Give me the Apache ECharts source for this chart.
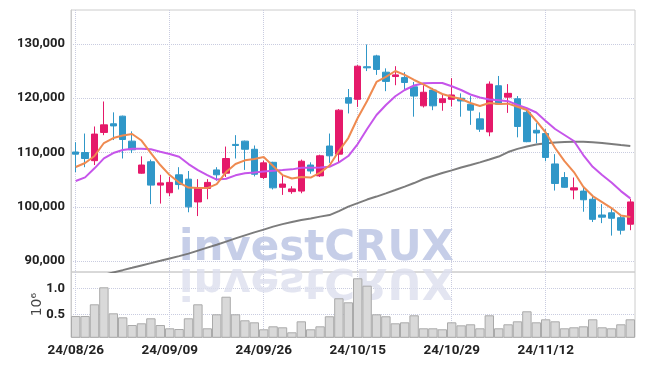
<!DOCTYPE html>
<html><head><meta charset="utf-8">
<script src="https://cdn.jsdelivr.net/npm/echarts@6/dist/echarts.min.js"></script>
<style>html,body{margin:0;padding:0;background:#fff}#c{width:645px;height:366px}</style>
</head><body><div id="c"></div>
<script>
const dates = ["24/08/26","24/08/27","24/08/28","24/08/29","24/08/30","24/09/02","24/09/03","24/09/04","24/09/05","24/09/06",
"24/09/09","24/09/10","24/09/11","24/09/12","24/09/13","24/09/19","24/09/20","24/09/23","24/09/24","24/09/25",
"24/09/26","24/09/27","24/09/30","24/10/02","24/10/04","24/10/07","24/10/08","24/10/10","24/10/11","24/10/14",
"24/10/15","24/10/16","24/10/17","24/10/18","24/10/21","24/10/22","24/10/23","24/10/24","24/10/25","24/10/28",
"24/10/29","24/10/30","24/10/31","24/11/01","24/11/04","24/11/05","24/11/06","24/11/07","24/11/08","24/11/11",
"24/11/12","24/11/13","24/11/14","24/11/15","24/11/18","24/11/19","24/11/20","24/11/21","24/11/22","24/11/25"];
const opens = [110100,110000,108500,113700,115300,116700,112100,106200,108300,104000,
102600,105900,105100,100900,103400,106800,106200,111500,112100,110600,
105400,108200,103600,102800,102900,107700,105700,111200,109700,120100,
119800,125800,127800,124800,124000,123800,122100,118600,121500,119200,
119800,120000,118900,116200,113800,122300,120200,119900,117400,114100,
113500,107900,105400,103100,102900,101400,98500,98900,98000,96800];
const closes = [109700,108900,113400,115100,114900,112400,110500,107700,104000,104400,
104500,104100,100000,103500,104500,105900,108900,111300,110600,106000,
108100,103500,104200,103300,108400,106600,109400,109400,117800,119100,
125900,125600,125300,123100,124300,122900,120400,121100,118600,119900,
120600,119500,117800,114300,122600,118900,120900,114800,112000,113600,
109100,104300,103600,103500,101300,97700,98100,97900,95700,100900];
const lows = [106400,107300,107700,113200,112300,108900,109900,106100,100500,100600,
102000,103200,99000,98300,101400,104800,105500,108900,106800,105600,
105100,103200,102200,102400,102500,106100,105500,108100,108200,117200,
118400,125000,124300,121300,122400,121500,116600,118300,117800,117700,
118500,116600,115100,113800,113000,118900,117300,112800,111900,111700,
108400,103000,103500,101400,99100,97200,97000,94700,94900,95700];
const highs = [111900,113500,114800,119400,117400,116800,113900,109300,108700,105900,
105500,107300,106600,105100,105100,107300,111100,113200,112200,111300,
108500,108300,106000,103800,108700,108200,109600,113500,118000,121700,
126100,129900,128000,125500,125900,124800,123000,122400,121900,120700,
123700,120900,120400,117400,123100,124100,122600,120400,118100,115400,
114300,109700,106400,105400,103500,102200,100500,99600,98700,101500];
const ma5 = [107330,108070,109360,111750,112670,113130,113410,112210,109910,107700,
105850,104470,103550,103460,103460,104190,106410,107880,108560,108800,
109170,107510,105850,105210,105480,105390,106310,107600,110280,112670,
116360,119490,123000,123920,125020,124290,123360,122540,121650,120780,
120290,119860,119120,118570,119120,118940,119000,118440,117830,115810,
113690,110830,108430,106410,103700,101990,100880,99770,98390,98110];
const ma10 = [104750,105430,107090,108930,109910,110460,110700,110700,110590,110150,
109720,109230,107880,106770,105850,105020,105170,105800,106170,106310,
106500,106650,106770,106900,107200,107200,107240,107380,108190,109360,
111570,114330,116910,118760,120360,121520,122350,122760,122810,122810,
122200,121520,120690,120140,119770,119620,119460,118760,118150,117370,
115810,114330,113230,112120,109540,107380,105850,104470,102900,101560];
const maLong = [86130,86590,87050,87480,87920,88340,88770,89210,89630,90060,
90500,90920,91380,91940,92490,93010,93600,94190,94740,95290,
95810,96360,96820,97190,97560,97870,98200,98480,99220,100050,
100690,101340,101890,102480,103090,103730,104380,105120,105670,106220,
106720,107240,107700,108190,108710,109260,110090,110680,111110,111480,
111700,111840,111940,111990,111990,111880,111750,111570,111380,111200];
const volumes = [467000,467000,692000,1019000,519000,442000,294000,327000,423000,294000,
231000,217000,423000,692000,231000,500000,838000,500000,385000,346000,
212000,269000,250000,154000,365000,212000,269000,462000,808000,731000,
1192000,1050000,500000,462000,327000,346000,481000,231000,231000,212000,
346000,288000,308000,231000,481000,231000,308000,365000,558000,346000,
404000,365000,231000,250000,269000,404000,250000,231000,308000,404000];
const priceTicks = [90000,100000,110000,120000,130000];
const volTicks = [500000,1000000];

const FONT = 'Roboto,"Noto Sans",sans-serif';
const RED = '#e5196a', BLUE = '#3097c8';
const gridLine = {show:true, lineStyle:{color:'#c9cce0', type:'dotted', width:1}};

const chart = echarts.init(document.getElementById('c'), null, {renderer:'canvas'});
chart.setOption({
  animation:false,
  backgroundColor:'#fff',
  grid:[
    {left:71, right:10, top:10, height:262, show:true, borderColor:'#cccccc', borderWidth:1},
    {left:71, right:10, top:272, height:65.3, show:true, borderColor:'#cccccc', borderWidth:1}
  ],
  graphic:[
    {type:'text', x:179, y:249, z:1, silent:true,
     style:{text:'investCRUX', font:'bold 42px "DejaVu Sans",sans-serif', fill:'rgba(190,199,229,0.88)', verticalAlign:'middle', align:'left'}},
    {type:'text', x:179, y:280, scaleY:-1, z:1, silent:true,
     style:{text:'investCRUX', font:'bold 42px "DejaVu Sans",sans-serif', fill:'rgba(220,222,237,0.8)', verticalAlign:'middle', align:'left'}}
  ],
  xAxis:[
    {type:'category', gridIndex:0, data:dates, boundaryGap:true,
     axisLine:{show:false}, axisTick:{show:false}, axisLabel:{show:false},
     splitLine:Object.assign({interval:9, alignWithLabel:true}, gridLine)},
    {type:'category', gridIndex:1, data:dates, boundaryGap:true,
     axisLine:{show:false}, axisTick:{show:false},
     axisLabel:{interval:9, margin:6, fontFamily:FONT, fontWeight:'bold', fontSize:13.5, color:'#222'},
     splitLine:Object.assign({interval:9, alignWithLabel:true}, gridLine)}
  ],
  yAxis:[
    {type:'value', gridIndex:0, min:88000, max:136250, scale:true,
     axisLine:{show:true, lineStyle:{color:'#cccccc'}},
     axisTick:{show:false, customValues:priceTicks},
     axisLabel:{customValues:priceTicks, margin:6, fontFamily:FONT, fontWeight:'bold', fontSize:13, color:'#222',
       formatter:v=>v.toLocaleString('en-US')},
     splitLine:gridLine},
    {type:'value', gridIndex:1, min:58000, max:1313000,
     name:'10\u2076', nameLocation:'middle', nameRotate:90, nameGap:27, nameMoveOverlap:false,
     nameTextStyle:{fontFamily:'"DejaVu Sans",sans-serif', fontSize:14, color:'#444'},
     axisLine:{show:true, lineStyle:{color:'#cccccc'}},
     axisTick:{show:false, customValues:volTicks},
     axisLabel:{customValues:volTicks, margin:6, fontFamily:FONT, fontWeight:'bold', fontSize:13, color:'#222',
       formatter:v=>(v/1e6).toFixed(1)},
     splitLine:gridLine}
  ],
  series:[
    {type:'candlestick', xAxisIndex:0, yAxisIndex:0, barWidth:7, z:3,
     data:dates.map((d,i)=>[opens[i], closes[i], lows[i], highs[i]]),
     itemStyle:{color:RED, color0:BLUE, borderColor:RED, borderColor0:BLUE, borderWidth:1}},
    {type:'line', xAxisIndex:0, yAxisIndex:0, data:maLong, showSymbol:false, z:2,
     lineStyle:{color:'rgba(110,110,110,0.9)', width:2}},
    {type:'line', xAxisIndex:0, yAxisIndex:0, data:ma10, showSymbol:false, z:4,
     lineStyle:{color:'#c655ea', width:2}},
    {type:'line', xAxisIndex:0, yAxisIndex:0, data:ma5, showSymbol:false, z:5,
     lineStyle:{color:'#ef8a50', width:2}},
    {type:'bar', xAxisIndex:1, yAxisIndex:1, data:volumes, barWidth:'100%', z:2,
     itemStyle:{color:'#d9d9d9', borderColor:'#aaaaaa', borderWidth:1}}
  ]
});
</script></body></html>
